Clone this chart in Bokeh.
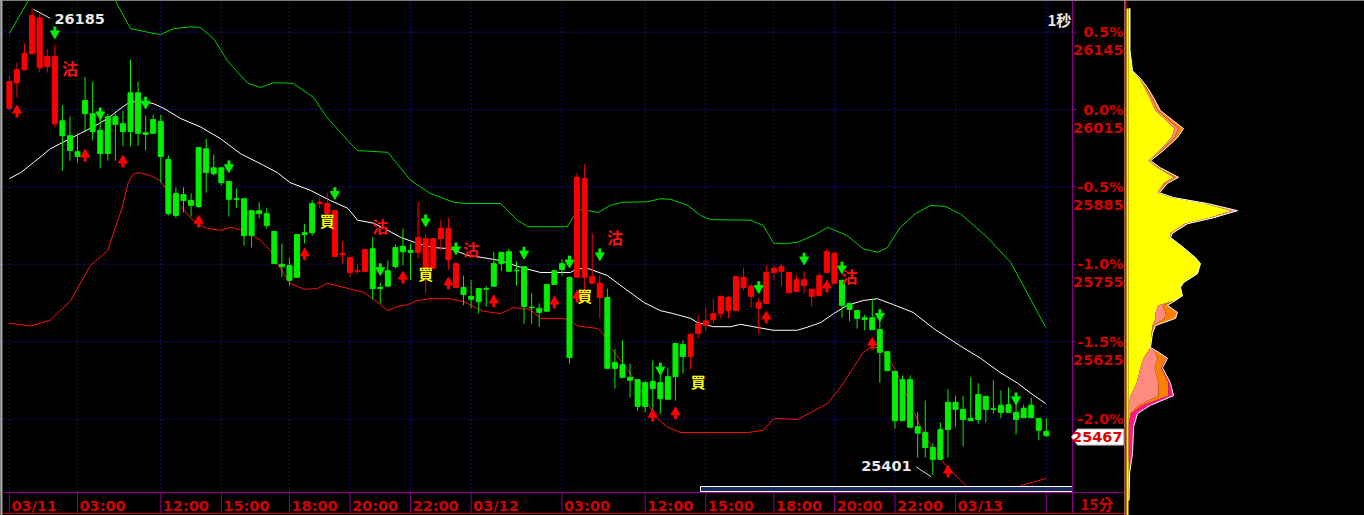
import numpy as np
from bokeh.plotting import figure
from bokeh.models import Range1d, ColumnDataSource
from bokeh.layouts import row
from bokeh.core.properties import value
from bokeh.embed import file_html
from bokeh.resources import INLINE

# ---------------- data ----------------
ref_close = 26015  # price of the 0.0 % line

opens = [26017,26060,26082,26109,26085,26087,25991,25996,25971,25944,
         26030,26008,25980,26003,26003,25991,26043,26043,25976,25998,
         25995,25931,25874,25872,25862,25951,25949,25917,25917,25894,
         25865,25865,25845,25845,25840,25810,25755,25753,25805,25808,
         25857,25857,25840,25768,25771,25741,25743,25743,25781,25716,
         25744,25783,25785,25778,25775,25748,25748,25798,25763,25716,
         25716,25701,25714,25714,25756,25775,25776,25745,25751,25683,
         25681,25721,25744,25756,25733,25733,25733,25723,25699,25699,
         25590,25586,25565,25561,25556,25558,25556,25566,25622,25620,
         25600,25639,25652,25662,25672,25677,25677,25716,25701,25681,
         25689,25741,25743,25707,25709,25719,25701,25702,25741,25723,
         25728,25689,25677,25665,25665,25645,25608,25575,25561,25561,
         25482,25472,25447,25477,25523,25523,25511,25496,25536,25533,
         25512,25518,25519,25506,25513,25518,25496,25474]
highs = [26072,26094,26126,26185,26176,26117,26124,26022,26003,25975,
         26070,26062,26010,26008,26008,26013,26099,26062,26005,26006,
         26006,25938,25884,25884,25874,25951,25966,25939,25917,25894,
         25882,25865,25845,25859,25850,25810,25790,25766,25805,25823,
         25862,25867,25875,25845,25793,25766,25755,25780,25800,25724,
         25761,25788,25815,25790,25860,25805,25798,25830,25833,25756,
         25736,25728,25714,25718,25776,25775,25781,25760,25751,25706,
         25689,25721,25744,25763,25733,25909,25923,25807,25736,25714,
         25613,25627,25588,25561,25558,25593,25585,25581,25622,25627,
         25640,25670,25682,25697,25702,25702,25734,25749,25723,25699,
         25753,25753,25756,25741,25736,25743,25713,25741,25781,25776,
         25728,25691,25677,25670,25697,25677,25608,25575,25568,25568,
         25506,25526,25454,25489,25545,25534,25534,25565,25555,25533,
         25560,25543,25548,25523,25519,25531,25496,25496]
lows = [26013,26035,26080,26107,26077,26077,25985,25912,25929,25926,
        25976,25963,25916,25929,25929,25953,25953,25954,25946,25975,
        25892,25837,25833,25842,25835,25850,25875,25904,25887,25835,
        25849,25786,25783,25832,25815,25756,25733,25719,25733,25790,
        25803,25849,25838,25768,25756,25733,25738,25743,25696,25689,
        25718,25748,25753,25728,25765,25706,25748,25778,25746,25716,
        25686,25681,25672,25684,25718,25744,25743,25719,25655,25655,
        25650,25676,25721,25736,25588,25733,25696,25723,25664,25580,
        25546,25565,25531,25509,25506,25509,25504,25528,25526,25571,
        25578,25630,25644,25655,25664,25664,25677,25711,25682,25639,
        25689,25728,25718,25707,25709,25707,25684,25702,25741,25723,
        25665,25659,25647,25644,25645,25556,25576,25479,25492,25481,
        25430,25430,25401,25427,25430,25482,25449,25492,25487,25489,
        25504,25496,25506,25469,25497,25497,25460,25464]
closes = [26062,26082,26109,26173,26169,26104,26104,25971,25946,25936,
          26008,25978,25941,25941,25990,25978,25978,25975,25973,25975,
          25936,25840,25837,25862,25854,25852,25909,25907,25892,25864,
          25864,25803,25803,25840,25820,25756,25751,25728,25733,25805,
          25808,25859,25857,25845,25773,25766,25744,25780,25714,25714,
          25718,25751,25776,25775,25800,25798,25798,25815,25815,25756,
          25704,25696,25692,25713,25718,25756,25743,25744,25684,25682,
          25674,25676,25721,25746,25598,25901,25899,25734,25723,25580,
          25580,25565,25560,25516,25516,25546,25529,25528,25566,25600,
          25637,25655,25660,25672,25701,25699,25734,25733,25718,25691,
          25741,25748,25751,25741,25729,25729,25713,25736,25776,25773,
          25686,25679,25664,25662,25645,25607,25576,25492,25492,25481,
          25471,25447,25427,25427,25477,25511,25494,25492,25494,25511,
          25511,25506,25506,25494,25497,25497,25476,25467]

# moving average (white)
ma_x = [0,1.5,3.2,5.4,7.1,9.4,11.1,13,14.3,15.6,16.4,17.7,19,20.4,22.6,25.2,27.9,30.5,33.6,35.4,
        37.1,39.8,42.4,44.7,46,48.1,50,51.7,53.9,56,58.3,60.5,62.6,64.9,67.5,70.2,74.1,75.1,76.4,79,
        81.1,83.8,86,87.7,90,90.9,93,95.3,96.6,98.3,100.9,104.1,105.4,107.2,108.9,110.7,112.8,114.7,
        116.8,119.4,122.1,123.9,126.1,128.3,130.9,133.2,135.3,136.9]
ma_y = [25899,25909,25926,25949,25960,25975,25986,26000,26013,26025,26028,26028,26025,26017,26000,
        25986,25966,25941,25921,25909,25892,25879,25862,25849,25829,25824,25812,25800,25790,25783,
        25781,25770,25766,25761,25750,25741,25741,25748,25748,25736,25716,25691,25677,25672,25664,
        25657,25650,25650,25654,25650,25644,25644,25649,25657,25672,25686,25694,25697,25687,25674,
        25647,25632,25614,25597,25573,25555,25535,25521]
# upper band (green)
ub_x = [0,2.5,6,10,14,16,19,20,21.7,24,25.2,27,28.8,31.5,33.2,34.9,37.5,40.2,42,44.7,46,50,53,55.6,
        58.7,60.5,64.9,67.1,68.5,73.7,75.1,76.5,77.8,79.4,81,84.3,86,87.4,89.6,91.3,92.6,97.9,99.6,
        101,102.8,104.1,106.2,108.1,110.7,112.8,114.7,116,117.7,119.7,121.7,123.7,125.7,127,129.2,
        132.3,134.5,136.9]
ub_y = [26143,26198,26250,26250,26198,26151,26143,26141,26151,26154,26153,26134,26097,26059,26052,
        26060,26059,26035,26001,25963,25946,25943,25896,25874,25859,25857,25857,25829,25818,25818,
        25847,25845,25842,25854,25859,25860,25865,25864,25854,25837,25830,25829,25820,25790,25790,
        25792,25803,25817,25803,25781,25775,25783,25817,25840,25854,25852,25839,25825,25800,25758,
        25706,25649]
# lower band (red)
lb_x = [-0.1,2.8,5.4,8.1,10.7,13,14,14.9,15.7,16.4,17.1,18.6,19.9,21,22.2,24,25,26.2,27.9,29.2,
        30.5,31.9,33.2,34.5,35.4,36.2,37.1,38.9,40.7,42,43.3,45.1,46.8,48.6,50,51.3,52.6,53.9,55.6,
        58.3,60,61.3,62.6,64.9,66.6,68.8,70.2,72.8,73.9,75.1,77.7,78.4,79.4,81.1,83,84.3,85.6,87,
        88.7,93,97.5,99.6,101,104.1,108.1,109.8,111.5,112.8,113.8,115.1,116.4,117.7,119,120.4,
        122.1,123.9,125.7,127.6,129.6,132.3,133.6,134.5,137]
lb_y = [25656,25651,25661,25694,25753,25778,25817,25850,25892,25907,25909,25904,25896,25876,25859,
        25832,25822,25815,25812,25817,25813,25805,25795,25778,25756,25740,25723,25713,25714,25723,
        25719,25713,25708,25691,25677,25684,25687,25694,25697,25697,25692,25684,25676,25672,25682,
        25679,25664,25664,25662,25651,25647,25639,25615,25588,25555,25521,25496,25481,25472,25472,
        25472,25476,25496,25494,25521,25548,25581,25607,25615,25615,25593,25560,25521,25481,25442,
        25414,25392,25367,25350,25367,25383,25386,25395]

# signal markers
buy_arrow_x = [1,10,15,25,39,52,58,64,72,75,85,88,100,108,114,124]
buy_arrow_y = [26010,25936,25926,25825,25770,25731,25721,25691,25689,25699,25499,25503,25664,25716,25620,25405]
sell_arrow_x = [6,12,18,29,43,49,55,59,68,74,78,86,99,105,110,115,133]
sell_arrow_y = [26146,26010,26028,25921,25876,25748,25830,25783,25776,25761,25773,25581,25718,25766,25751,25671,25531]
sell_sig_x = [8,49,61,80,111]
sell_sig_y = [26085,25820,25780,25800,25736]
buy_sig_x = [42,55,76,91]
buy_sig_y = [25828,25739,25702,25558]

# axes
pct_ticks = [0.5, 0.0, -0.5, -1.0, -1.5, -2.0]
time_tick_idx = [0,9,20,28,37,45,53,61,73,84,92,101,109,117,125,137]
time_tick_labels = ["03/11","03:00","12:00","15:00","18:00","20:00","22:00","03/12",
                    "03:00","12:00","15:00","18:00","20:00","22:00","03/13",""]
period_label = "15分"
interval_label = "1秒"

# volume profile by price level (stacked layers)
prof_price = [26185,26114,26094,26080,26067,26052,26035,26013,25996,25983,
              25968,25946,25929,25917,25901,25891,25875,25867,25857,25845,
              25833,25823,25807,25800,25783,25766,25756,25739,25724,25716,
              25702,25694,25686,25674,25664,25652,25639,25615,25607,25597,
              25581,25555,25534,25518,25504,25481,25437,25403,25358]
vol_yellow = [1.5,1.5,3,4,11, 16,21,27,38,46, 43,31,20,29,45, 35,29,43,76,103,
              81,56,42,42,55, 67,72,69,55,52, 54,47,30,27,27, 24,23,22,19,15,
              12,8,2,0,0, 0,0,1,0.5]
vol_salmon = [0,0,0,0,1, 1.5,2,2.5,3,4, 3,2,2,2,2, 2,2,2,3,6,
              4,3,2,0,0, 0,0,0,0,0, 0,0,4,10,9, 1,0,0,8,14,
              14,22,28,10,2, 0,0,0,0]
vol_orange = [0,0,0,0,0, 1.5,2,2.5,4,5, 3,2,0,1,3, 2,0,0,0,0,
              0,0,0,0,0, 0,0,0,0,0, 0,0,5,12,11, 2,1,0,3,9,
              7,10,10,4,1, 0,0,0,0]
vol_magenta = [0]*35 + [0,0,0,0,1, 1,2,5,8,6, 5,4,0,0]

# ---------------- layout helpers (screen geometry) ----------------
X0_PX, BAR_PX = 8.9, 7.569          # screen x of bar 0, spacing of bars
Y0_PX = 109.0                       # screen y of ref_close
PT_PX = ref_close * 0.005 / 77.4    # price points per pixel
W_MAIN, W_PROF, H = 1124, 240, 515


def bx(px):
    return (px - X0_PX) / BAR_PX


def py(px):
    return ref_close - (px - Y0_PX) * PT_PX


RED = "#ff0000"
GREEN = "#00f000"
AX_RED = "#d40000"
PURPLE = "#8b008b"
GRID_BLUE = "#2020ff"
LATIN = value("DejaVu Sans")
CJK = value("Noto Sans CJK TC")

yr = Range1d(py(H), py(0))
p = figure(width=W_MAIN, height=H, x_range=Range1d(bx(0), bx(W_MAIN)), y_range=yr,
           output_backend="svg", toolbar_location=None,
           x_axis_location=None, y_axis_location=None, min_border=0,
           background_fill_color="black", border_fill_color="black", outline_line_color=None)
p.xgrid.visible = False
p.ygrid.visible = False

price_ticks = [ref_close * (1 + t / 100.0) for t in pct_ticks]
nt = len(time_tick_idx)

# dotted grid
p.segment(x0=[bx(3)] * 6, y0=price_ticks, x1=[bx(1072)] * 6, y1=price_ticks,
          line_color=GRID_BLUE, line_dash="1 3", line_width=1)
p.segment(x0=time_tick_idx, y0=[py(492)] * nt, x1=time_tick_idx, y1=[py(0)] * nt,
          line_color=GRID_BLUE, line_dash="1 3", line_width=1)

# bands and average
p.line(ub_x, ub_y, line_color="#00d000", line_width=1)
p.line(lb_x, lb_y, line_color="#ff1010", line_width=1)
p.line(ma_x, ma_y, line_color="white", line_width=1)

# candles
o = np.array(opens); h = np.array(highs); l = np.array(lows); c = np.array(closes)
idx = np.arange(len(o))
cols = np.where(c >= o, RED, GREEN)
src = ColumnDataSource(dict(x=idx, h=h, l=l, top=np.maximum(o, c), bot=np.minimum(o, c), col=cols))
p.segment(x0="x", y0="h", x1="x", y1="l", line_color="col", line_width=1, source=src)
p.vbar(x="x", width=0.66, top="top", bottom="bot", fill_color="col", line_color="col",
       line_width=1, source=src)

# arrows
p.scatter(x=buy_arrow_x, y=[v + 2 * PT_PX for v in buy_arrow_y], marker="triangle", size=9,
          fill_color=RED, line_color=RED)
p.rect(x=buy_arrow_x, y=[v - 2.5 * PT_PX for v in buy_arrow_y], width=3, height=5,
       width_units="screen", height_units="screen", fill_color=RED, line_color=None)
p.scatter(x=sell_arrow_x, y=[v - 2 * PT_PX for v in sell_arrow_y], marker="inverted_triangle",
          size=9, fill_color=GREEN, line_color=GREEN)
p.rect(x=sell_arrow_x, y=[v + 2.5 * PT_PX for v in sell_arrow_y], width=3, height=5,
       width_units="screen", height_units="screen", fill_color=GREEN, line_color=None)

# signal words
p.text(x=sell_sig_x, y=sell_sig_y, text=["沽"] * len(sell_sig_x), text_color="#ff1010",
       text_font=CJK, text_font_style="bold", text_font_size="16px",
       text_align="center", text_baseline="middle")
p.text(x=buy_sig_x, y=buy_sig_y, text=["買"] * len(buy_sig_x), text_color="#ffff00",
       text_font=CJK, text_font_style="bold", text_font_size="15px",
       text_align="center", text_baseline="middle")

# high / low marks
hi_i = int(np.argmax(h)); hi_v = int(h[hi_i])
lo_i = int(np.argmin(l)); lo_v = int(l[lo_i])
p.segment(x0=[hi_i + 0.2], y0=[hi_v - 1 * PT_PX], x1=[hi_i + 2.4], y1=[hi_v - 10 * PT_PX],
          line_color="#e0e0e0", line_width=1)
p.text(x=[hi_i + 2.95], y=[hi_v - 11 * PT_PX], text=[str(hi_v)], text_color="#e8e8e8",
       text_font=LATIN, text_font_style="bold", text_font_size="14.5px",
       text_align="left", text_baseline="middle")
p.segment(x0=[lo_i - 2.2], y0=[lo_v + 8 * PT_PX], x1=[lo_i - 0.2], y1=[lo_v - 2 * PT_PX],
          line_color="#e0e0e0", line_width=1)
p.text(x=[lo_i - 2.8], y=[lo_v + 9 * PT_PX], text=[str(lo_v)], text_color="#e8e8e8",
       text_font=LATIN, text_font_style="bold", text_font_size="14.5px",
       text_align="right", text_baseline="middle")

p.text(x=[bx(1047)], y=[py(19)], text=[interval_label], text_color="#e8e8e8",
       text_font=CJK, text_font_style="bold", text_font_size="15px",
       text_align="left", text_baseline="middle")

# scroll bar
p.quad(left=[bx(700)], right=[bx(1072)], top=[py(486)], bottom=[py(491)],
       fill_color="#1e2c64", line_color="white", line_width=1)

# mask below the plot area, axis lines and ticks
p.quad(left=[bx(0)], right=[bx(1130)], top=[py(492)], bottom=[py(520)],
       fill_color="black", line_color=None)
p.segment(x0=[bx(1)], y0=[py(0)], x1=[bx(1)], y1=[py(515)], line_color="#a8a8a8", line_width=2)
p.segment(x0=[bx(3)], y0=[py(492)], x1=[bx(1124)], y1=[py(492)], line_color=PURPLE, line_width=1)
p.segment(x0=[bx(3)], y0=[py(513)], x1=[bx(1124)], y1=[py(513)], line_color="#c00000", line_width=1)
p.segment(x0=[bx(1072)], y0=[py(513)], x1=[bx(1072)], y1=[py(0)], line_color=PURPLE, line_width=1)
p.segment(x0=time_tick_idx, y0=[py(492)] * nt, x1=time_tick_idx, y1=[py(513)] * nt,
          line_color=PURPLE, line_width=1)
p.segment(x0=[bx(1072)] * 6, y0=price_ticks, x1=[bx(1076)] * 6, y1=price_ticks,
          line_color=PURPLE, line_width=1)

# time labels
p.text(x=[t + 2 / BAR_PX for t in time_tick_idx], y=[py(505)] * nt, text=time_tick_labels,
       text_color=AX_RED, text_font=LATIN, text_font_style="bold", text_font_size="14.5px",
       text_align="left", text_baseline="middle")
p.text(x=[bx(1080)], y=[py(503)], text=[period_label], text_color=AX_RED, text_font=CJK,
       text_font_style="bold", text_font_size="15px", text_align="left", text_baseline="middle")

# price / percent labels
last = closes[-1]
pct_lab = ["%.1f%%" % t for t in pct_ticks]
p.text(x=[bx(1123)] * 6, y=price_ticks, text=pct_lab, text_color=AX_RED, text_font=LATIN,
       text_font_style="bold", text_font_size="14.5px", text_align="right", text_baseline="middle")
keep = [i for i, v in enumerate(price_ticks) if abs(v - last) > 16 * PT_PX]
p.text(x=[bx(1123)] * len(keep), y=[price_ticks[i] - 18 * PT_PX for i in keep],
       text=["%d" % round(price_ticks[i]) for i in keep], text_color=AX_RED, text_font=LATIN,
       text_font_style="bold", text_font_size="14.5px", text_align="right", text_baseline="middle")

# last price box
bc = last - 1.5 * PT_PX
p.patch(x=[bx(1071), bx(1077), bx(1123), bx(1123), bx(1077)],
        y=[bc, bc + 8 * PT_PX, bc + 8 * PT_PX, bc - 8 * PT_PX, bc - 8 * PT_PX],
        fill_color="white", line_color="#c0c0c0", line_width=1)
p.text(x=[bx(1122)], y=[bc], text=[str(last)], text_color="#e00000", text_font=LATIN,
       text_font_style="bold", text_font_size="14.5px", text_align="right", text_baseline="middle")

# ---------------- volume profile ----------------
q = figure(width=W_PROF, height=H, x_range=Range1d(-4, W_PROF - 4), y_range=yr,
           output_backend="svg", toolbar_location=None,
           x_axis_location=None, y_axis_location=None, min_border=0,
           background_fill_color="black", border_fill_color="black", outline_line_color=None)
q.xgrid.visible = False
q.ygrid.visible = False

vy = np.array(vol_yellow, dtype=float)
vs = vy + np.array(vol_salmon, dtype=float)
vo = vs + np.array(vol_orange, dtype=float)
vm = vo + np.array(vol_magenta, dtype=float)
zero = np.zeros_like(vy)
q.harea(x1=zero, x2=vy, y=prof_price, fill_color="#ffff00")
q.harea(x1=vy, x2=vs, y=prof_price, fill_color="#ff8a80")
q.harea(x1=vs, x2=vo, y=prof_price, fill_color="#ff8000")
q.harea(x1=vo, x2=vm, y=prof_price, fill_color="#ff1493")
q.line(x=vm, y=prof_price, line_color="white", line_width=1)
q.segment(x0=[-3], y0=[py(520)], x1=[-3], y1=[py(0)], line_color="#ff0000", line_width=2)
q.segment(x0=[-1], y0=[py(520)], x1=[-1], y1=[py(8)], line_color="#ffff00", line_width=2)

layout = row(p, q)
open("out.html", "w").write(file_html(layout, INLINE))
